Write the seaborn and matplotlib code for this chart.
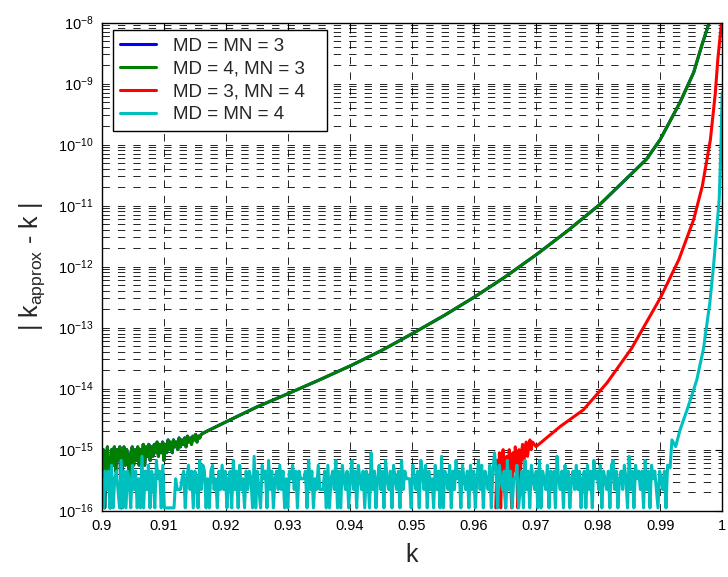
import numpy as np
import pandas as pd
import matplotlib
matplotlib.use("Agg")
import matplotlib.pyplot as plt
import matplotlib.ticker as mticker
import seaborn as sns

# rounding-noise level (multiples of eps/2)
EPS2 = 1.11e-16

# cyan noise floor, 0.9 .. 0.9912, one digit per sample (multiples of EPS2)
cyan_noise_rows = [
    "3142415134216141431524131714251431634151111111322234135241431625",
    "4131452314252413416241523142431714215341624134252413143524",
    "1433341624132522241513426141532413624153241431824135241632",
    "4153241624333153241642514231524171432514263415324152413625",
    "1432514841532416241335124162415324161432514241732415241342",
    "5241341524163425143241562413425317241534241624153421432415",
]
cyan_k = [0.9916, 0.9919, 0.9925, 0.9932, 0.9945, 0.9959, 0.9970,
          0.9980, 0.9986, 0.99952, 0.9998, 1.0]
cyan_log = [-15.3, -14.84, -14.95, -14.68, -14.3, -13.86, -13.34,
            -12.6, -12.0, -10.9, -10.03, -9.15]

# green noise, 0.9 .. 0.916 (multiples of EPS2)
green_noise = [5, 9, 1, 6, 10, 4, 1, 9, 5, 10, 4, 9, 6, 10, 1, 7, 10, 5, 9, 6,
               3, 8, 10, 5, 9, 6, 10, 5, 9, 6, 11, 5, 10, 7, 11, 6, 10, 7, 11,
               8, 12, 7, 11, 8, 12, 6, 11, 8, 13, 9, 12, 8, 13, 10, 12, 9, 14,
               10, 13, 11, 14, 10, 15, 12, 14, 11, 15, 13, 16, 12, 15, 14, 16]
green_k = [0.9165, 0.9201, 0.925, 0.9303, 0.935, 0.9402, 0.945, 0.9502,
           0.9552, 0.9602, 0.965, 0.9701, 0.975, 0.9803, 0.9878, 0.99,
           0.9932, 0.9954, 0.9967, 0.998]
green_log = [-14.72, -14.54, -14.3, -14.07, -13.86, -13.62, -13.38, -13.09,
             -12.8, -12.49, -12.17, -11.8, -11.42, -10.98, -10.24, -9.92,
             -9.31, -8.82, -8.38, -7.97]

# red noise, 0.9635 .. 0.9694 (multiples of EPS2)
red_noise = [1, 6, 2, 8, 1, 5, 9, 3, 1, 7, 2, 9, 5, 1, 8, 4, 10, 6, 1, 9,
             3, 8, 11, 6, 9, 12, 7, 10, 13, 9, 12]
red_k = [0.9700, 0.9739, 0.9776, 0.9814, 0.9854, 0.99, 0.993, 0.9954,
         0.9968, 0.9981, 0.9989, 0.9993, 0.9999]
red_log = [-14.95, -14.62, -14.35, -13.91, -13.34, -12.52, -11.89, -11.23,
           -10.68, -9.92, -9.15, -8.6, -8.0]

labels = ["MD = MN = 3", "MD = 4, MN = 3", "MD = 3, MN = 4", "MD = MN = 4"]
colors = ["#0000FF", "#007F00", "#FF0000", "#00BFBF"]

y_major = [10.0 ** e for e in range(-16, -7)]

cyan_noise = [int(c) for row in cyan_noise_rows for c in row]


def series(noise_start, noise_end, noise, ks, logs):
    kn = np.linspace(noise_start, noise_end, len(noise))
    k = np.concatenate([kn, ks])
    err = np.concatenate([np.array(noise) * EPS2, 10.0 ** np.array(logs)])
    return pd.DataFrame({"k": k, "err": err})


green_df = series(0.9, 0.916, green_noise, green_k, green_log)
red_df = series(0.9635, 0.9694, red_noise, red_k, red_log)
cyan_df = series(0.9, 0.9912, cyan_noise, cyan_k, cyan_log)
all_data = [green_df, green_df, red_df, cyan_df]  # MD=MN=3 overlaps MD=4,MN=3

sns.set_theme(style="white")
plt.rcParams["font.family"] = ["Liberation Sans", "DejaVu Sans"]
plt.rcParams["mathtext.default"] = "regular"
plt.rcParams["lines.scale_dashes"] = False

fig = plt.figure(figsize=(7.28, 5.77), dpi=100)
ax = fig.add_axes([0.140, 0.115, 0.852, 0.846])

for df, lab, col in zip(all_data, labels, colors):
    sns.lineplot(data=df, x="k", y="err", ax=ax, color=col, lw=2.2,
                 label=lab, estimator=None, sort=False)

ax.set_yscale("log")
ax.set_xlim(0.9, 1.0)
ax.set_ylim(1e-16, 1e-8)
ax.set_xticks(np.arange(0.9, 1.0001, 0.01))
ax.xaxis.set_major_formatter(mticker.FormatStrFormatter("%g"))
ax.set_yticks(y_major)
ax.set_yticks([m * d for d in y_major[:-1] for m in range(2, 10)], minor=True)
ax.yaxis.set_minor_formatter(mticker.NullFormatter())

grid_style = dict(color="black", lw=0.6, linestyle=(0, (5.3, 5.8)))
ax.grid(True, which="major", axis="both", **grid_style)
ax.grid(True, which="minor", axis="y", **grid_style)

ax.tick_params(which="major", direction="in", top=True, right=True,
               length=5, width=0.8, labelsize=10.5, colors="black", pad=6)
ax.tick_params(which="minor", direction="in", top=True, right=True,
               length=3, width=0.6)
for s in ax.spines.values():
    s.set_color("black")
    s.set_linewidth(1.0)

ax.set_xlabel("k", fontsize=18, labelpad=7)
ax.set_ylabel(r"| k$_{\mathregular{approx}}$ - k |", fontsize=18, labelpad=8)

leg = ax.legend(loc="upper left", bbox_to_anchor=(0.0177, 0.5, 0.345, 0.484),
                mode="expand", borderaxespad=0, fontsize=13.5, frameon=True,
                fancybox=False, handlelength=1.9, handletextpad=0.9,
                labelspacing=0.3, borderpad=0.4)
leg.get_frame().set_edgecolor("black")
leg.get_frame().set_linewidth(1.0)
leg.get_frame().set_alpha(1)

fig.savefig("out.png", dpi=100)
